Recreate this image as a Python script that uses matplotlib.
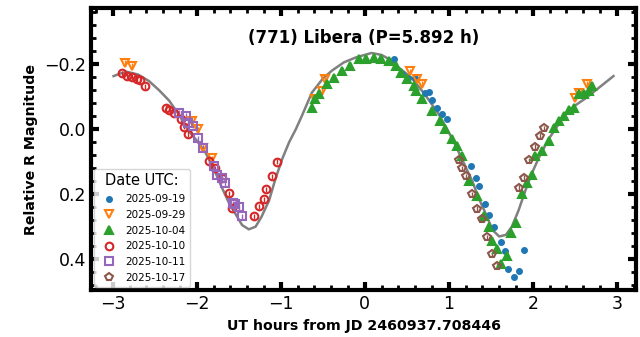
import numpy as np
import matplotlib
matplotlib.use("Agg")
from matplotlib import pyplot as plt
from matplotlib.ticker import AutoMinorLocator

# Lightcurve of (771) Libera, UT hours from the reference epoch vs relative R mag
t_0919 = [0.35, 0.44, 0.52, 0.60, 0.72, 0.76, 0.80, 0.86, 0.92, 0.98, 1.26, 1.32, 1.36,
          1.43, 1.48, 1.54, 1.62, 1.67, 1.71, 1.78, 1.83, 1.89]
m_0919 = [-0.215, -0.17, -0.157, -0.158, -0.11, -0.114, -0.09, -0.065, -0.046, -0.03, 0.114,
          0.15, 0.175, 0.23, 0.265, 0.30, 0.347, 0.375, 0.43, 0.455, 0.437, 0.372]

t_0929 = [-2.85, -2.77, -2.06, -1.98, -1.92, -1.82, -0.59, -0.51, -0.47, 0.54, 0.62, 0.68,
          2.50, 2.55, 2.65]
m_0929 = [-0.204, -0.195, -0.025, 0.0, 0.058, 0.09, -0.093, -0.117, -0.155, -0.178, -0.153,
          -0.14, -0.095, -0.11, -0.14]

t_1004 = [-0.63, -0.59, -0.55, -0.45, -0.37, -0.27, -0.17, -0.07, 0.01, 0.11, 0.19, 0.29,
          0.37, 0.43, 0.50, 0.58, 0.61, 0.68, 0.80, 0.90, 0.96, 1.04, 1.10, 1.16, 1.24, 1.33,
          1.42, 1.48, 1.51, 1.57, 1.62, 1.69, 1.74, 1.80, 1.87, 1.93, 1.99, 2.03, 2.11, 2.19,
          2.25, 2.31, 2.37, 2.43, 2.49, 2.55, 2.61, 2.67, 2.70]
m_1004 = [-0.065, -0.092, -0.107, -0.138, -0.157, -0.178, -0.194, -0.215, -0.215, -0.218,
          -0.215, -0.21, -0.194, -0.172, -0.154, -0.132, -0.117, -0.092, -0.055, -0.025, 0.0,
          0.03, 0.052, 0.083, 0.16, 0.207, 0.268, 0.30, 0.345, 0.37, 0.415, 0.39, 0.32, 0.29,
          0.20, 0.166, 0.14, 0.083, 0.068, 0.037, -0.003, -0.025, -0.04, -0.06, -0.065,
          -0.107, -0.107, -0.117, -0.132]

t_1010 = [-2.89, -2.83, -2.77, -2.71, -2.67, -2.61, -2.37, -2.33, -2.27, -2.19, -2.15, -2.10,
          -1.86, -1.78, -1.70, -1.62, -1.58, -1.32, -1.26, -1.20, -1.17, -1.11, -1.05]
m_1010 = [-0.172, -0.163, -0.16, -0.154, -0.15, -0.132, -0.065, -0.06, -0.05, -0.03, -0.008,
          0.015, 0.098, 0.12, 0.15, 0.197, 0.242, 0.268, 0.237, 0.216, 0.185, 0.145, 0.10]

t_1011 = [-2.21, -2.13, -2.10, -2.04, -1.99, -1.92, -1.80, -1.76, -1.70, -1.66, -1.57,
          -1.54, -1.50, -1.46]
m_1011 = [-0.05, -0.04, -0.018, -0.01, 0.028, 0.058, 0.114, 0.14, 0.15, 0.167, 0.228, 0.23,
          0.24, 0.268]

t_1017 = [1.12, 1.16, 1.21, 1.28, 1.33, 1.39, 1.45, 1.51, 1.57, 1.84, 1.89, 1.95, 2.03,
          2.09, 2.13]
m_1017 = [0.096, 0.12, 0.145, 0.20, 0.245, 0.277, 0.333, 0.385, 0.42, 0.18, 0.15, 0.096,
          0.055, 0.02, -0.003]

# Fourier fit of the composite lightcurve
fit_t = [-2.99, -2.90, -2.83, -2.70, -2.57, -2.45, -2.33, -2.20, -2.10, -2.00, -1.90, -1.80,
         -1.70, -1.62, -1.54, -1.46, -1.38, -1.30, -1.23, -1.14, -1.06, -0.98, -0.90, -0.82,
         -0.75, -0.63, -0.50, -0.39, -0.25, -0.11, 0.08, 0.20, 0.29, 0.40, 0.56, 0.72, 0.88,
         0.98, 1.08, 1.18, 1.28, 1.36, 1.44, 1.52, 1.60, 1.68, 1.75, 1.83, 1.91, 1.99, 2.07,
         2.19, 2.28, 2.39, 2.50, 2.63, 2.80, 2.96]
fit_m = [-0.163, -0.172, -0.176, -0.168, -0.148, -0.12, -0.088, -0.04, 0.005, 0.035, 0.07,
         0.12, 0.18, 0.225, 0.26, 0.295, 0.308, 0.30, 0.27, 0.22, 0.15, 0.09, 0.04, 0.0,
         -0.04, -0.112, -0.155, -0.18, -0.205, -0.22, -0.234, -0.228, -0.215, -0.19, -0.157,
         -0.105, -0.046, 0.0, 0.05, 0.105, 0.16, 0.215, 0.26, 0.31, 0.33, 0.325, 0.30, 0.25,
         0.19, 0.135, 0.089, 0.03, -0.005, -0.046, -0.072, -0.095, -0.13, -0.163]

mag_err = 0.008

fig, ax = plt.subplots(figsize=(6.4, 3.37), dpi=100)
fig.subplots_adjust(left=0.142, right=0.994, bottom=0.139, top=0.976)

ax.plot(fit_t, fit_m, color="gray", lw=1.8, zorder=1)

styles = [
    (t_0919, m_0919, "2025-09-19", "o", "C0", True, 3.5),
    (t_0929, m_0929, "2025-09-29", "v", "C1", False, 6),
    (t_1004, m_1004, "2025-10-04", "^", "C2", True, 6),
    (t_1010, m_1010, "2025-10-10", "o", "C3", False, 5.5),
    (t_1011, m_1011, "2025-10-11", "s", "C4", False, 5.5),
    (t_1017, m_1017, "2025-10-17", "p", "C5", False, 6),
]
handles = []
for t, m, date, mk, c, filled, ms in styles:
    eb = ax.errorbar(t, m, yerr=mag_err, fmt=mk, color=c, ms=ms,
                     mfc=c if filled else "none", mew=1.5, elinewidth=1,
                     label=date, zorder=2)
    handles.append(eb[0])

ax.set_xlim(-3.26, 3.23)
ax.set_ylim(0.495, -0.372)

ax.xaxis.set_minor_locator(AutoMinorLocator(5))
ax.yaxis.set_minor_locator(AutoMinorLocator(5))
ax.tick_params(which="both", direction="in", top=True, right=True, labelsize=12.5)
ax.tick_params(which="major", length=6, width=3)
ax.tick_params(which="minor", length=3.5, width=2)
for sp in ax.spines.values():
    sp.set_linewidth(3)

ax.set_xlabel("UT hours from JD 2460937.708446", fontweight="bold", fontsize=10.2)
ax.set_ylabel("Relative R Magnitude", fontweight="bold", fontsize=10.2)
ax.text(0.5, 0.895, "(771) Libera (P=5.892 h)", transform=ax.transAxes,
        ha="center", va="center", fontweight="bold", fontsize=12)

leg = ax.legend(handles, [s[2] for s in styles], loc="lower left",
                title="Date UTC:", fontsize=7.5, title_fontsize=10.5,
                borderaxespad=0.3, handletextpad=0.6, labelspacing=0.55)

fig.savefig("out.png", dpi=100)
